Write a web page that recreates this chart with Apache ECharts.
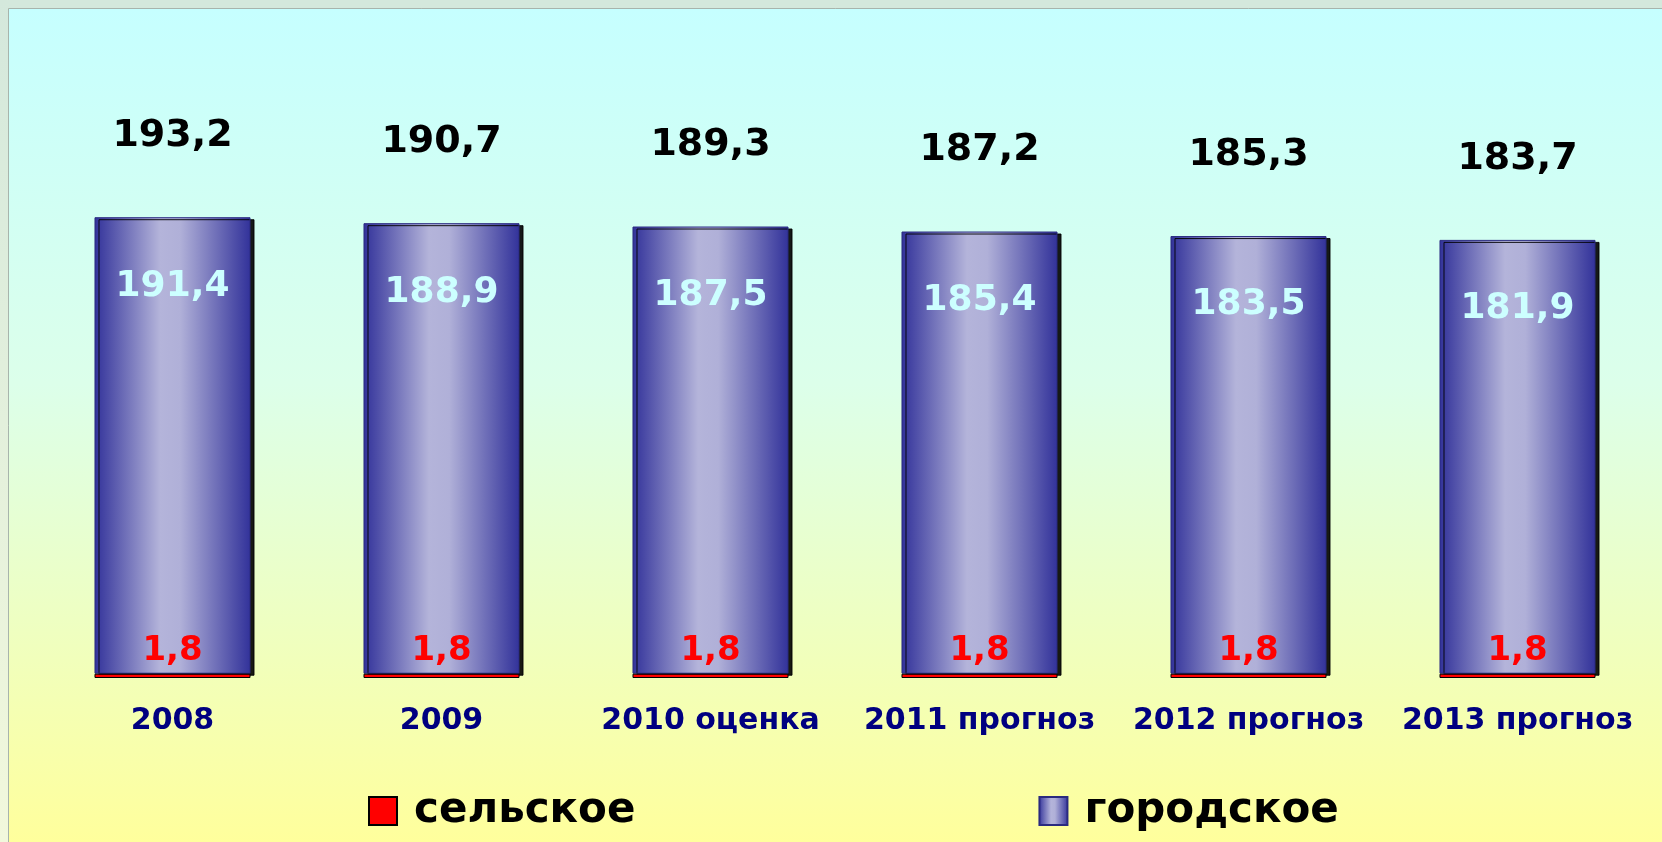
<!DOCTYPE html>
<html>

<head>
  <meta charset="utf-8" />
  <script src="https://cdn.jsdelivr.net/npm/echarts@6/dist/echarts.min.js"></script>
  <style>
    html, body { margin: 0; padding: 0; }
    #chart { width: 1662px; height: 842px; }
  </style>
</head>

<body>
  <div id="chart"></div>
  <script type="text/javascript">
    const years = ["2008", "2009", "2010 оценка", "2011 прогноз", "2012 прогноз", "2013 прогноз"];
    const rural = [1.8, 1.8, 1.8, 1.8, 1.8, 1.8];
    const urban = [191.4, 188.9, 187.5, 185.4, 183.5, 181.9];
    const totals = [193.2, 190.7, 189.3, 187.2, 185.3, 183.7];

    const chart = echarts.init(document.getElementById("chart"));
    const font = "DejaVu Sans";
    const fmt = p => p.value.toFixed(1).replace(".", ",");

    const barFill = new echarts.graphic.LinearGradient(0, 0, 1, 0, [
      { offset: 0, color: "#32329a" },
      { offset: 0.42, color: "#b4b4da" },
      { offset: 0.55, color: "#b0b0d8" },
      { offset: 1, color: "#32329a" }
    ]);

    var option = {
      animation: false,
      backgroundColor: "#d4e8dc",
      graphic: [
        {
          type: "rect", z: -10, silent: true,
          shape: { x: 0, y: 0, width: 9, height: 842 },
          style: {
            fill: new echarts.graphic.LinearGradient(0, 0, 0, 1, [
              { offset: 0, color: "#d4e8dc" },
              { offset: 1, color: "#f2f8dc" }
            ])
          }
        },
        {
          type: "rect", z: -10, silent: true,
          shape: { x: 9, y: 9, width: 1653, height: 833 },
          style: {
            fill: new echarts.graphic.LinearGradient(0, 0, 0, 1, [
              { offset: 0, color: "#c6ffff" },
              { offset: 0.45, color: "#dcffea" },
              { offset: 1, color: "#ffff9c" }
            ])
          }
        },
        { type: "line", z: -9, silent: true, shape: { x1: 8.5, y1: 8.5, x2: 1662, y2: 8.5 }, style: { stroke: "#a8b4ac", lineWidth: 1 } },
        { type: "line", z: -9, silent: true, shape: { x1: 8.5, y1: 8.5, x2: 8.5, y2: 842 }, style: { stroke: "#a8b4ac", lineWidth: 1 } }
      ],
      grid: { left: 38, right: 10, top: 201, bottom: 164 },
      legend: {
        data: ["сельское", "городское"],
        left: 363,
        top: 785,
        itemWidth: 28,
        itemHeight: 28,
        itemGap: 403,
        icon: "rect",
        textStyle: { fontFamily: font, fontSize: 42, fontWeight: "bold", color: "#000", padding: [0, 0, 0, 12] }
      },
      xAxis: {
        type: "category",
        data: years,
        axisLine: { show: false },
        axisTick: { show: false },
        axisLabel: { interval: 0, margin: 28, fontFamily: font, fontSize: 30, fontWeight: "bold", color: "#000080" }
      },
      yAxis: {
        type: "value",
        min: 0,
        max: 200,
        show: false,
        splitLine: { show: false }
      },
      series: [
        {
          name: "сельское",
          type: "bar",
          stack: "all",
          barWidth: "58%",
          barGap: "-100%",
          data: rural,
          itemStyle: { color: "#ff0000", borderColor: "#000", borderWidth: 1 },
          label: {
            show: true, position: "top", distance: 6, formatter: fmt,
            fontFamily: font, fontSize: 34, fontWeight: "bold", color: "#ff0000"
          },
          z: 3
        },
        {
          name: "городское",
          type: "bar",
          stack: "all",
          barWidth: "58%",
          barGap: "-100%",
          data: urban,
          itemStyle: {
            color: barFill,
            borderColor: "#2a2a80",
            borderWidth: 1,
            shadowColor: "rgba(0,0,0,0.9)",
            shadowOffsetX: 4,
            shadowOffsetY: 2,
            shadowBlur: 0
          },
          label: {
            show: true, position: "insideTop", distance: 51, formatter: fmt,
            fontFamily: font, fontSize: 36, fontWeight: "bold", color: "#ccffff"
          }
        },
        {
          name: "всего",
          type: "bar",
          barWidth: "58%",
          barGap: "-100%",
          data: totals,
          silent: true,
          itemStyle: { color: "transparent" },
          label: {
            show: true, position: "top", distance: 62, formatter: fmt,
            fontFamily: font, fontSize: 38, fontWeight: "bold", color: "#000"
          },
          z: 1
        }
      ]
    };

    chart.setOption(option);

    window.onresize = () => {
      chart?.resize();
    };
  </script>
</body>

</html>
